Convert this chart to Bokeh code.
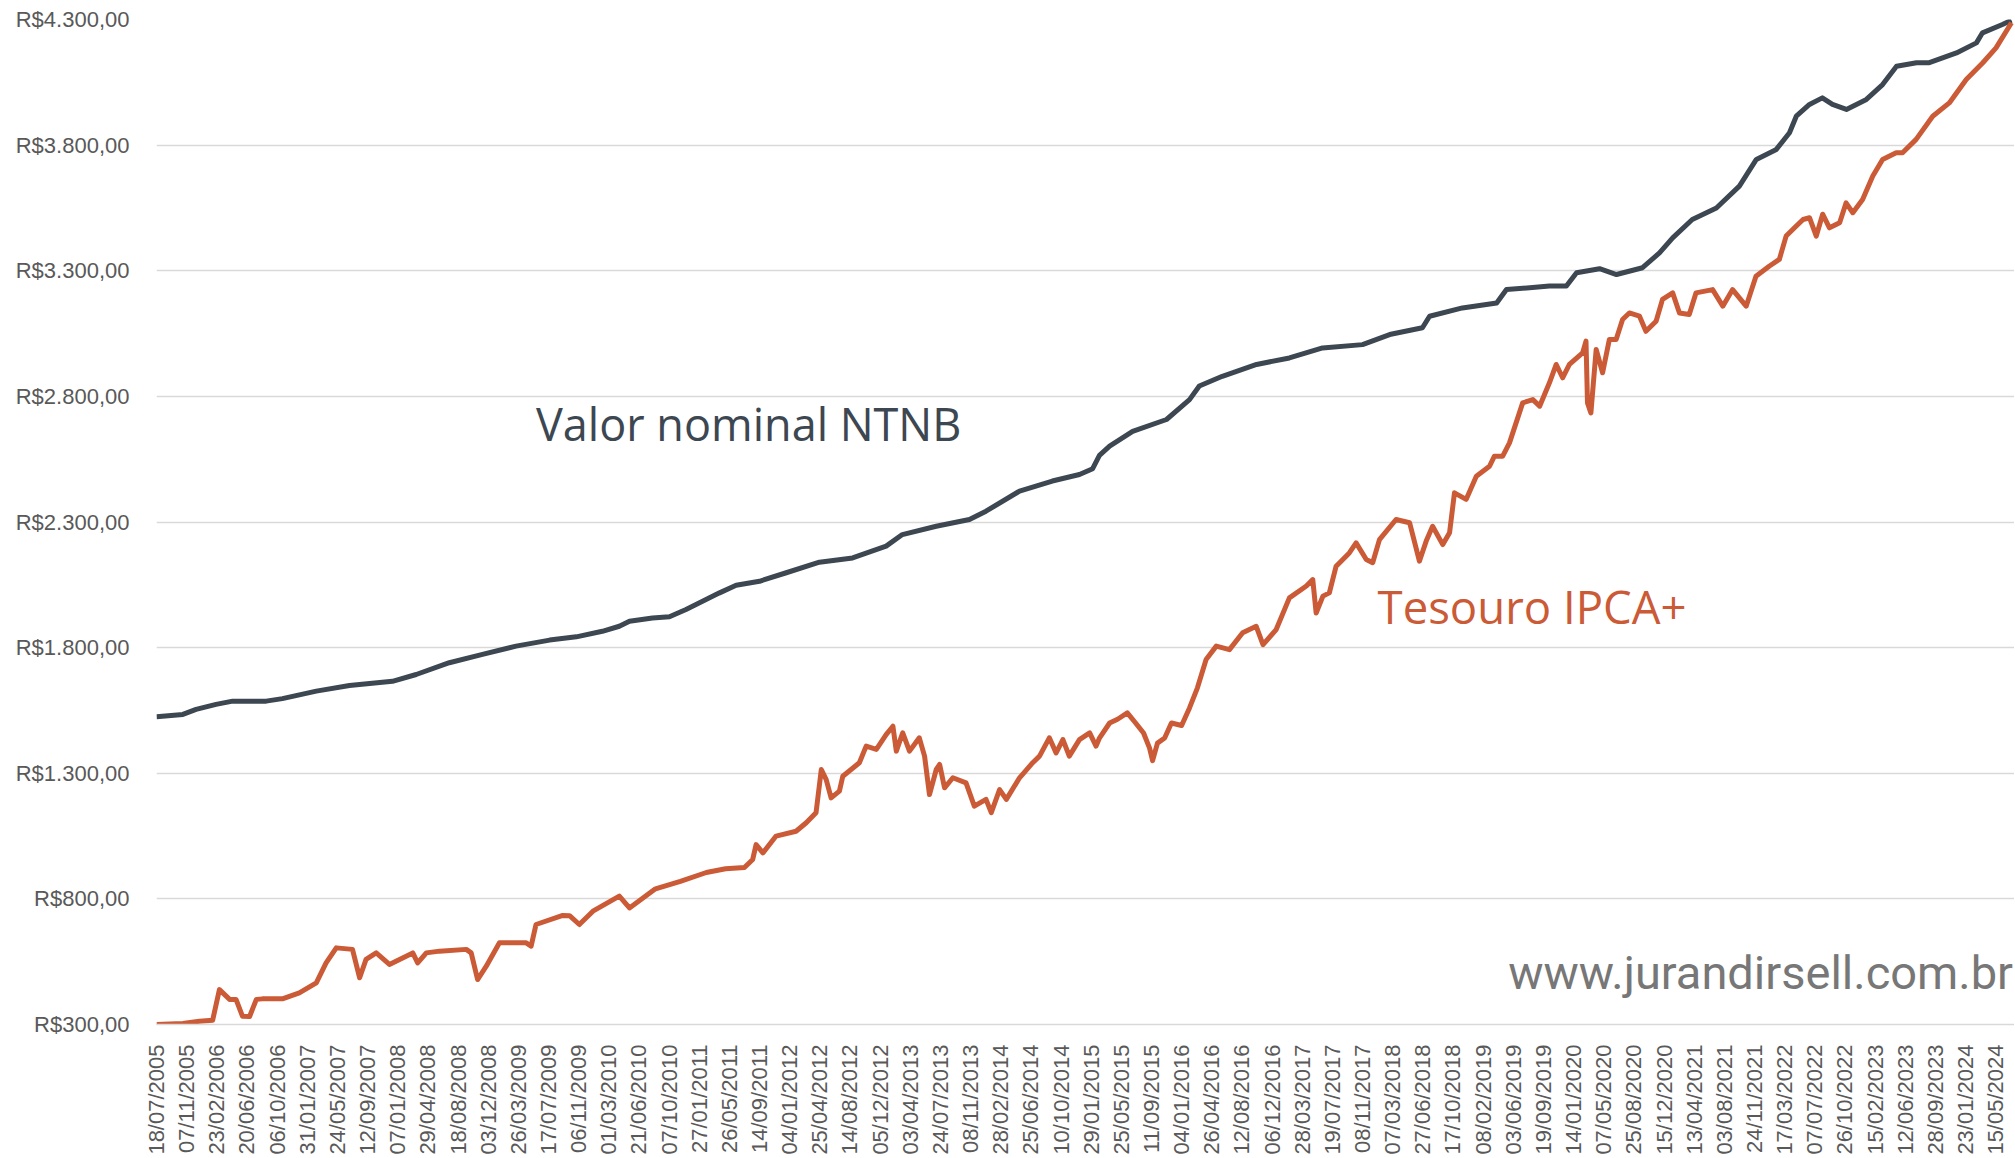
import math
from bokeh.plotting import figure
from bokeh.models import Range1d, FixedTicker, Label
from bokeh.embed import file_html
from bokeh.resources import INLINE

# ---- data (x = trading-day row index, one date label every 80 rows) ----
date_labels = [
    "18/07/2005", "07/11/2005", "23/02/2006", "20/06/2006", "06/10/2006", "31/01/2007",
    "24/05/2007", "12/09/2007", "07/01/2008", "29/04/2008", "18/08/2008", "03/12/2008",
    "26/03/2009", "17/07/2009", "06/11/2009", "01/03/2010", "21/06/2010", "07/10/2010",
    "27/01/2011", "26/05/2011", "14/09/2011", "04/01/2012", "25/04/2012", "14/08/2012",
    "05/12/2012", "03/04/2013", "24/07/2013", "08/11/2013", "28/02/2014", "25/06/2014",
    "10/10/2014", "29/01/2015", "25/05/2015", "11/09/2015", "04/01/2016", "26/04/2016",
    "12/08/2016", "06/12/2016", "28/03/2017", "19/07/2017", "08/11/2017", "07/03/2018",
    "27/06/2018", "17/10/2018", "08/02/2019", "03/06/2019", "19/09/2019", "14/01/2020",
    "07/05/2020", "25/08/2020", "15/12/2020", "13/04/2021", "03/08/2021", "24/11/2021",
    "17/03/2022", "07/07/2022", "26/10/2022", "15/02/2023", "12/06/2023", "28/09/2023",
    "23/01/2024", "15/05/2024",
]
rows_per_label = 80

y_ticks = [300, 800, 1300, 1800, 2300, 2800, 3300, 3800, 4300]
y_tick_labels = ["R$300,00", "R$800,00", "R$1.300,00", "R$1.800,00", "R$2.300,00",
                 "R$2.800,00", "R$3.300,00", "R$3.800,00", "R$4.300,00"]

ntnb_rows = [0, 70, 105, 158, 202, 291, 334, 424, 512, 626, 689, 777, 865, 954, 1043,
             1114, 1183, 1228, 1255, 1316, 1361, 1405, 1494, 1538, 1600, 1671, 1759,
             1847, 1936, 1979, 2069, 2157, 2201, 2290, 2377, 2449, 2484, 2502, 2529,
             2590, 2680, 2741, 2767, 2828, 2919, 3006, 3094, 3200, 3272, 3359, 3378,
             3465, 3556, 3582, 3696, 3741, 3768, 3829, 3874, 3943, 3988, 4023, 4075,
             4139, 4200, 4245, 4298, 4333, 4351, 4386, 4420, 4447, 4484, 4537, 4580,
             4617, 4670, 4704, 4776, 4829, 4845, 4898, 4922]
ntnb_vals = [1525, 1534, 1554, 1574, 1587, 1587, 1597, 1627, 1649, 1666, 1693, 1740, 1773,
             1806, 1830, 1843, 1865, 1885, 1905, 1918, 1923, 1952, 2018, 2048, 2064, 2098,
             2140, 2157, 2204, 2250, 2283, 2310, 2343, 2423, 2463, 2489, 2512, 2565, 2602,
             2661, 2708, 2787, 2841, 2880, 2927, 2953, 2993, 3006, 3046, 3073, 3119, 3152,
             3172, 3225, 3239, 3239, 3292, 3308, 3285, 3312, 3371, 3431, 3504, 3550, 3637,
             3743, 3783, 3849, 3915, 3962, 3988, 3962, 3942, 3982, 4041, 4114, 4128, 4128,
             4167, 4207, 4247, 4280, 4297]

ipca_rows = [0, 70, 114, 149, 167, 194, 211, 228, 247, 265, 281, 334, 379, 424, 450, 477,
             520, 539, 556, 583, 618, 680, 693, 716, 751, 822, 835, 852, 875, 910, 981,
             994, 1007, 1078, 1096, 1122, 1158, 1228, 1255, 1324, 1390, 1459, 1510, 1560,
             1582, 1591, 1609, 1644, 1697, 1724, 1750, 1764, 1777, 1790, 1812, 1821, 1865,
             1883, 1910, 1936, 1954, 1963, 1980, 1998, 2024, 2038, 2051, 2069, 2078, 2091,
             2113, 2148, 2170, 2201, 2215, 2237, 2255, 2290, 2325, 2343, 2369, 2387, 2405,
             2422, 2449, 2476, 2493, 2502, 2529, 2550, 2576, 2598, 2619, 2635, 2643, 2656,
             2675, 2693, 2720, 2741, 2762, 2785, 2812, 2847, 2882, 2918, 2936, 2971, 3006,
             3051, 3068, 3077, 3095, 3112, 3130, 3165, 3183, 3210, 3227, 3245, 3289, 3325,
             3351, 3369, 3386, 3413, 3431, 3444, 3475, 3502, 3537, 3550, 3572, 3590, 3625,
             3652, 3670, 3696, 3714, 3731, 3749, 3784, 3793, 3797, 3806, 3820, 3837, 3855,
             3873, 3890, 3908, 3935, 3952, 3979, 3996, 4023, 4041, 4067, 4085, 4129, 4156,
             4182, 4218, 4244, 4279, 4306, 4324, 4351, 4369, 4386, 4404, 4421, 4439, 4466,
             4483, 4501, 4527, 4554, 4580, 4616, 4633, 4669, 4713, 4757, 4802, 4846, 4881,
             4922]
ipca_vals = [300, 304, 313, 317, 439, 400, 400, 333, 332, 400, 402, 402, 426, 466, 545, 605,
             599, 486, 559, 585, 539, 585, 545, 585, 592, 599, 585, 479, 532, 625, 625,
             612, 698, 734, 733, 698, 751, 811, 764, 840, 870, 905, 920, 925,
             957, 1016, 983, 1050, 1069, 1103, 1143, 1315, 1275, 1202, 1229, 1288, 1342,
             1408, 1395, 1454, 1487, 1388, 1461, 1388, 1441, 1368, 1215, 1315, 1335, 1242,
             1282, 1262, 1169, 1196, 1143, 1235, 1196, 1282, 1342, 1368, 1441, 1381, 1434,
             1368, 1434, 1461, 1408, 1440, 1500, 1515, 1540, 1500, 1460, 1400, 1350, 1420,
             1440, 1500, 1490, 1560, 1640, 1753, 1806, 1792, 1859, 1885, 1812, 1872, 1998,
             2045, 2071, 1938, 2005, 2018, 2124, 2177, 2217, 2151, 2138, 2230, 2310, 2297,
             2144, 2224, 2283, 2210, 2257, 2416, 2390, 2482, 2522, 2562, 2562, 2615, 2774,
             2787, 2761, 2854, 2927, 2874, 2927, 2973, 3020, 2774, 2734, 2987, 2894, 3026,
             3026, 3106, 3132, 3119, 3059, 3099, 3186, 3212, 3132, 3126, 3212, 3225, 3159,
             3225, 3159, 3278, 3318, 3345, 3438, 3478, 3504, 3511, 3438, 3525, 3471, 3491,
             3570, 3531, 3584, 3677, 3743, 3770, 3770, 3823, 3915, 3968, 4061, 4128, 4187,
             4287]

# annotations: (text, row, value)
ann_ntnb = ("Valor nominal NTNB", 1007, 2694)
ann_ipca = ("Tesouro IPCA+", 3240, 1967)
ann_site = ("www.jurandirsell.com.br", 4926, 505)

DARK = "#3d4751"
ORANGE = "#cb5a36"
GRID = "#d9d9d9"
TICK = "#595959"

label_rows = [i * rows_per_label for i in range(len(date_labels))]

p = figure(width=2014, height=1157, output_backend="svg", toolbar_location=None,
           x_range=Range1d(0, 4930), y_range=Range1d(300, 4300),
           min_border_left=156, min_border_right=0, min_border_top=19, min_border_bottom=133)
p.outline_line_color = None
p.background_fill_color = "white"
p.border_fill_color = "white"

p.xgrid.grid_line_color = None
p.ygrid.grid_line_color = GRID
p.ygrid.grid_line_width = 1.5
p.ygrid.ticker = FixedTicker(ticks=y_ticks)

p.yaxis.ticker = FixedTicker(ticks=y_ticks)
p.yaxis.major_label_overrides = dict(zip(y_ticks, y_tick_labels))
p.yaxis.axis_line_color = None
p.yaxis.major_tick_line_color = None
p.yaxis.minor_tick_line_color = None
p.yaxis.major_tick_out = 0
p.yaxis.major_label_standoff = 27
p.yaxis.major_label_text_font = "Liberation Sans"
p.yaxis.major_label_text_font_size = "22px"
p.yaxis.major_label_text_color = TICK

p.xaxis.ticker = FixedTicker(ticks=label_rows)
p.xaxis.major_label_overrides = dict(zip(label_rows, date_labels))
p.xaxis.major_label_orientation = math.pi / 2
p.xaxis.axis_line_color = GRID
p.xaxis.axis_line_width = 1.5
p.xaxis.major_tick_line_color = None
p.xaxis.minor_tick_line_color = None
p.xaxis.major_tick_out = 0
p.xaxis.major_label_standoff = 20
p.xaxis.major_label_text_font = "Liberation Sans"
p.xaxis.major_label_text_font_size = "22px"
p.xaxis.major_label_text_color = TICK

p.line(ntnb_rows, ntnb_vals, line_color=DARK, line_width=5, line_join="round")
p.line(ipca_rows, ipca_vals, line_color=ORANGE, line_width=5, line_join="round")

p.add_layout(Label(x=ann_ntnb[1], y=ann_ntnb[2], text=ann_ntnb[0], text_font="Open Sans",
                   text_font_size="45px", text_color=DARK, text_baseline="alphabetic",
                   text_align="left"))
p.add_layout(Label(x=ann_ipca[1], y=ann_ipca[2], text=ann_ipca[0], text_font="Open Sans",
                   text_font_size="45.5px", text_color=ORANGE, text_baseline="alphabetic",
                   text_align="left"))
p.add_layout(Label(x=ann_site[1], y=ann_site[2], text=ann_site[0], text_font="Roboto",
                   text_font_size="47px", text_color="#777777", text_baseline="alphabetic",
                   text_align="right"))

open("out.html", "w").write(file_html(p, INLINE))
